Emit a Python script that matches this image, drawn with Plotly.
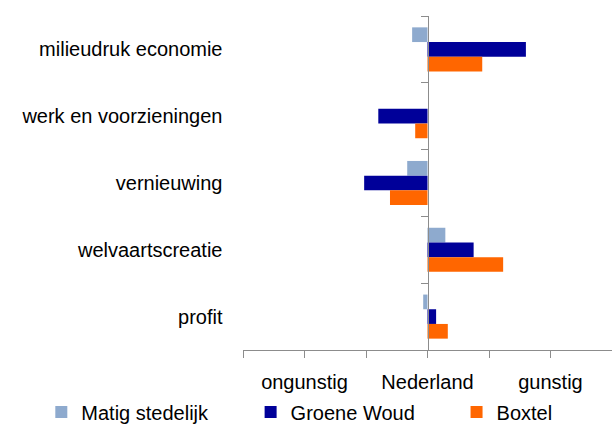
import plotly.graph_objects as go

categories = ["milieudruk economie", "werk en voorzieningen", "vernieuwing", "welvaartscreatie", "profit"]
matig_stedelijk = [-0.25, 0.0, -0.33, 0.29, -0.07]
groene_woud = [1.6, -0.8, -1.03, 0.75, 0.14]
boxtel = [0.89, -0.2, -0.61, 1.23, 0.33]

x_tickvals = [-3, -2, -1, 0, 1, 2, 3]
x_ticktext = ["", "ongunstig", "", "Nederland", "", "gunstig", ""]

font_family = "Liberation Sans, Arial, sans-serif"
axis_col = "#8c8c8c"

fig = go.Figure()
fig.add_trace(go.Bar(y=categories, x=matig_stedelijk, orientation="h", name="Matig stedelijk",
                     marker=dict(color="#8EAACE", line=dict(width=0)), legend="legend"))
fig.add_trace(go.Bar(y=categories, x=groene_woud, orientation="h", name="Groene Woud",
                     marker=dict(color="#000099", line=dict(width=0)), legend="legend2"))
fig.add_trace(go.Bar(y=categories, x=boxtel, orientation="h", name="Boxtel",
                     marker=dict(color="#FF6600", line=dict(width=0)), legend="legend3"))

def leg(xpos):
    return dict(orientation="h", xref="container", yref="container", x=xpos, y=0.033,
                xanchor="left", yanchor="middle", font=dict(size=20),
                bgcolor="rgba(0,0,0,0)")

fig.update_layout(
    width=612, height=426,
    margin=dict(l=243, r=0, t=16, b=76, autoexpand=False),
    paper_bgcolor="white", plot_bgcolor="white",
    barmode="group", bargap=0.34, bargroupgap=0,
    font=dict(family=font_family, size=20, color="#000000"),
    xaxis=dict(range=[-3, 3], tickvals=x_tickvals, ticktext=x_ticktext,
               showgrid=False, zeroline=False, showline=True, linecolor=axis_col, linewidth=1,
               ticks="outside", ticklen=7, tickcolor=axis_col, tickwidth=1,
               ticklabelstandoff=7, tickfont=dict(size=20), automargin=False),
    yaxis=dict(autorange="reversed", type="category", anchor="free", position=0.5,
               showgrid=False, zeroline=False,
               showline=True, linecolor=axis_col, linewidth=1,
               ticks="outside", ticklen=7, tickcolor=axis_col, tickwidth=1,
               tickson="boundaries", ticklabelstandoff=201, tickfont=dict(size=20),
               automargin=False),
    legend=leg(0.0675),
    legend2=leg(0.4095),
    legend3=leg(0.746),
    showlegend=True,
)

fig.write_html("out.html", post_script="document.body.style.margin='0px';",
               config={"displayModeBar": False})
